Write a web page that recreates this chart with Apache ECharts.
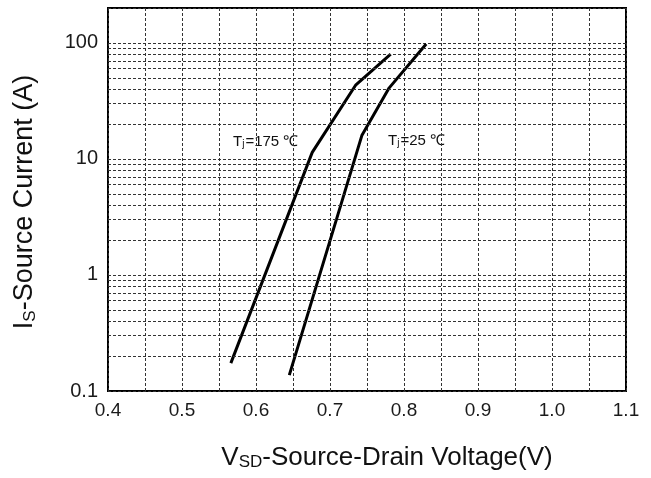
<!DOCTYPE html>
<html>
<head>
<meta charset="utf-8">
<script src="https://cdn.jsdelivr.net/npm/echarts@6/dist/echarts.min.js"></script>
<style>
  html, body { margin: 0; padding: 0; background: #fff; }
  #chart { width: 651px; height: 478px; }
</style>
</head>
<body>
<div id="chart"></div>
<script>
// Is vs Vsd
const tj175 = [[0.566, 0.174], [0.676, 11.4], [0.735, 43.6], [0.782, 80]];
const tj25 = [[0.645, 0.137], [0.743, 15.9], [0.780, 41], [0.830, 98]];

const xTicks = ["0.4", "0.5", "0.6", "0.7", "0.8", "0.9", "1.0", "1.1"];
const yTicks = ["0.1", "1", "10", "100"];
// 2..9 inside each decade
const minorY = [0.2, 0.3, 0.4, 0.5, 0.6, 0.7, 0.8, 0.9,
  2, 3, 4, 5, 6, 7, 8, 9,
  20, 30, 40, 50, 60, 70, 80, 90];

const FONT = "Arial, 'Liberation Sans', sans-serif";
const gridLine = { color: "#333", width: 1, type: [3, 2] };

const chart = echarts.init(document.getElementById("chart"));

const tjRich = {
  a: { fontSize: 15, fontFamily: FONT, fill: "#111" },
  b: { fontSize: 10, fontFamily: FONT, fill: "#111", verticalAlign: "bottom", padding: [0, 1, 0, 0] },
};

chart.setOption({
  backgroundColor: "#fff",
  animation: false,
  grid: {
    left: 108, right: 25, top: 8, bottom: 87,
    show: true, borderColor: "#000", borderWidth: 2, backgroundColor: "transparent",
  },
  xAxis: {
    type: "value",
    min: 0.4,
    max: 1.1,
    interval: 0.05,
    axisLine: { show: false },
    axisTick: { show: false },
    splitLine: { show: true, lineStyle: gridLine },
    axisLabel: {
      interval: 0,
      margin: 10,
      color: "#1a1a1a",
      fontSize: 19,
      fontFamily: FONT,
      formatter: (v) => {
        const s = v.toFixed(1);
        return Math.round(v * 100) % 10 === 0 && xTicks.includes(s) ? s : "";
      },
    },
  },
  yAxis: {
    type: "log",
    logBase: 10,
    min: 0.1,
    max: 200,
    axisLine: { show: false },
    axisTick: { show: false },
    splitLine: { show: true, lineStyle: gridLine },
    axisLabel: {
      showMaxLabel: false,
      margin: 10,
      color: "#1a1a1a",
      fontSize: 20,
      fontFamily: FONT,
      formatter: (v) => {
        const s = v < 1 ? "0.1" : String(Math.round(v));
        return yTicks.includes(s) ? s : "";
      },
    },
  },
  series: [
    {
      type: "line",
      data: tj175,
      showSymbol: false,
      lineStyle: { color: "#000", width: 3 },
      markLine: {
        silent: true,
        symbol: "none",
        label: { show: false },
        lineStyle: gridLine,
        data: minorY.map((v) => ({ yAxis: v })),
      },
    },
    {
      type: "line",
      data: tj25,
      showSymbol: false,
      lineStyle: { color: "#000", width: 3 },
    },
  ],
  graphic: [
    {
      type: "text",
      x: 233, y: 142,
      style: { text: "{a|T}{b|j}{a|=175 ℃}", verticalAlign: "middle", rich: tjRich },
    },
    {
      type: "text",
      x: 388, y: 141,
      style: { text: "{a|T}{b|j}{a|=25 ℃}", verticalAlign: "middle", rich: tjRich },
    },
    {
      type: "text",
      x: 387, y: 458,
      style: {
        text: "{a|V}{b|SD}{a|-Source-Drain Voltage(V)}",
        align: "center",
        verticalAlign: "middle",
        rich: {
          a: { fontSize: 26, fontFamily: FONT, fill: "#111" },
          b: { fontSize: 17, fontFamily: FONT, fill: "#111", verticalAlign: "bottom" },
        },
      },
    },
    {
      type: "text",
      x: 25, y: 202,
      rotation: Math.PI / 2,
      style: {
        text: "{a|I}{b|S}{a|-Source Current (A)}",
        align: "center",
        verticalAlign: "middle",
        rich: {
          a: { fontSize: 27, fontFamily: FONT, fill: "#111" },
          b: { fontSize: 17, fontFamily: FONT, fill: "#111", verticalAlign: "bottom" },
        },
      },
    },
  ],
});
</script>
</body>
</html>
